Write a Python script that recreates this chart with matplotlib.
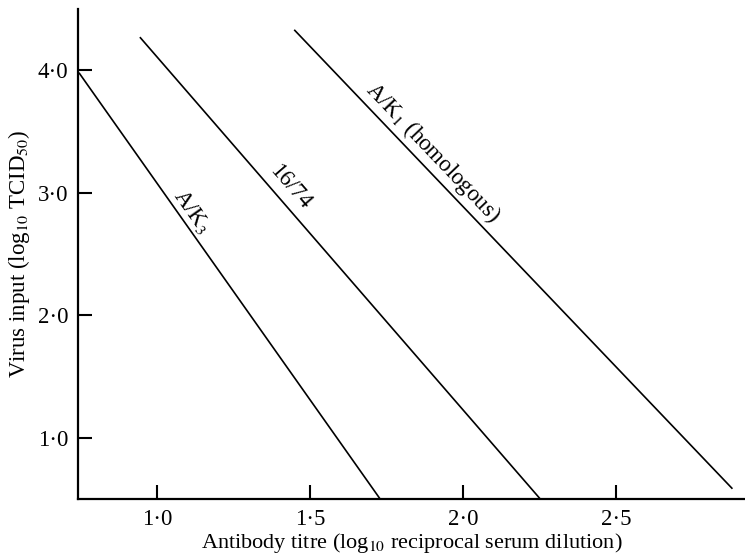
import numpy as np
import matplotlib
matplotlib.use('Agg')
import matplotlib.pyplot as plt
from matplotlib.ticker import FuncFormatter

plt.rcParams['font.family'] = ['Liberation Serif', 'DejaVu Serif']
plt.rcParams['mathtext.fontset'] = 'stix'

# Dane: końce prostych (miano przeciwciał, dawka wirusa)
serum_names = ['A/K$_3$', '16/74', 'A/K$_1$ (homologous)']
titre_start = [0.745, 0.944, 1.448]
titre_end = [1.729, 2.252, 2.879]
input_start = [3.98, 4.27, 4.33]
input_end = [0.50, 0.50, 0.585]
# położenie etykiet przy liniach
label_x = [1.114, 1.435, 1.902]
label_y = [2.85, 3.05, 3.33]

x_ticks = [1.0, 1.5, 2.0, 2.5]
y_ticks = [1.0, 2.0, 3.0, 4.0]

fig = plt.figure(figsize=(7.45, 5.59), dpi=100)
ax = fig.add_axes([0.1047, 0.107, 0.8953, 0.877])

for i in range(len(serum_names)):
    ax.plot([titre_start[i], titre_end[i]], [input_start[i], input_end[i]],
            color='black', lw=1.2, solid_capstyle='butt')
    ang = np.degrees(np.arctan2(input_end[i] - input_start[i],
                                titre_end[i] - titre_start[i]))
    ax.text(label_x[i], label_y[i], serum_names[i], fontsize=16.5,
            rotation=ang, transform_rotates_text=True,
            rotation_mode='anchor', ha='center', va='center')

ax.set_xlim(0.742, 2.92)
ax.set_ylim(0.5, 4.5)
ax.set_xticks(x_ticks)
ax.set_yticks(y_ticks)
fmt = FuncFormatter(lambda v, p: f'{v:.1f}'.replace('.', '\u00b7'))
ax.xaxis.set_major_formatter(fmt)
ax.yaxis.set_major_formatter(fmt)
ax.tick_params(direction='in', length=10, width=1.5, labelsize=16.5, pad=7)

for s in ['top', 'right']:
    ax.spines[s].set_visible(False)
for s in ['left', 'bottom']:
    ax.spines[s].set_linewidth(1.6)

ax.set_xlabel('Antibody titre (log$_{10}$ reciprocal serum dilution)', fontsize=16, labelpad=1)
ax.set_ylabel('Virus input (log$_{10}$ TCID$_{50}$)', fontsize=16.5, labelpad=4)

plt.savefig('out.png', dpi=100)
